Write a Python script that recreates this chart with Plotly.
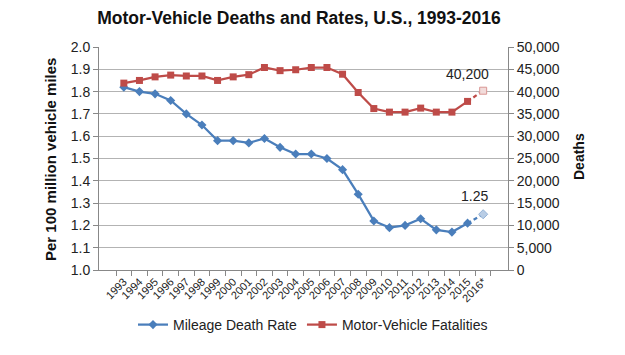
import plotly.graph_objects as go

years = ["1993", "1994", "1995", "1996", "1997", "1998", "1999", "2000", "2001", "2002",
         "2003", "2004", "2005", "2006", "2007", "2008", "2009", "2010", "2011", "2012",
         "2013", "2014", "2015", "2016*"]
death_rate = [1.82, 1.80, 1.79, 1.76, 1.70, 1.65, 1.58, 1.58, 1.57, 1.59,
              1.55, 1.52, 1.52, 1.50, 1.45, 1.34, 1.22, 1.19, 1.20, 1.23,
              1.18, 1.17, 1.21, 1.25]
fatalities = [41900, 42500, 43300, 43700, 43500, 43500, 42500, 43300, 43800, 45400,
              44700, 44900, 45400, 45400, 43900, 39800, 36200, 35400, 35400, 36300,
              35400, 35400, 37800, 40200]
left_ticks = [1.0, 1.1, 1.2, 1.3, 1.4, 1.5, 1.6, 1.7, 1.8, 1.9, 2.0]
right_ticks = [0, 5000, 10000, 15000, 20000, 25000, 30000, 35000, 40000, 45000, 50000]

BLUE = "#4a7ebb"
RED = "#be4b48"
FONT = "Liberation Sans, Arial, sans-serif"

OFF = 8  # page body margin offset
W, H = 625 - OFF, 355 - OFF
L, R, T, B = 99 - OFF, 117, 47 - OFF, 85
PW, PH = W - L - R, H - T - B


def px_x(x):
    return (x - OFF - L) / PW


def px_y(y):
    return (H - B - (y - OFF)) / PH


fig = go.Figure()

# solid lines (actual)
fig.add_trace(go.Scatter(
    x=years[:-1], y=death_rate[:-1], name="Mileage Death Rate", mode="lines+markers",
    line=dict(color=BLUE, width=2.25), marker=dict(symbol="diamond", size=7, color=BLUE),
    yaxis="y"))
fig.add_trace(go.Scatter(
    x=years[:-1], y=fatalities[:-1], name="Motor-Vehicle Fatalities", mode="lines+markers",
    line=dict(color=RED, width=2.25), marker=dict(symbol="square", size=7, color=RED),
    yaxis="y2"))

# dashed projection segments
fig.add_trace(go.Scatter(
    x=years[-2:], y=death_rate[-2:], mode="lines", showlegend=False,
    line=dict(color=BLUE, width=2.25, dash="4px,3px"), yaxis="y", hoverinfo="skip"))
fig.add_trace(go.Scatter(
    x=years[-1:], y=death_rate[-1:], mode="markers", showlegend=False,
    marker=dict(symbol="diamond", size=7, color="#b9cde5", line=dict(color="#95b3d7", width=1)),
    yaxis="y"))
fig.add_trace(go.Scatter(
    x=years[-2:], y=fatalities[-2:], mode="lines", showlegend=False,
    line=dict(color=RED, width=2.25, dash="4px,3px"), yaxis="y2", hoverinfo="skip"))
fig.add_trace(go.Scatter(
    x=years[-1:], y=fatalities[-1:], mode="markers", showlegend=False,
    marker=dict(symbol="square", size=7, color="#f2dcdb", line=dict(color="#d99694", width=1)),
    yaxis="y2"))

fig.add_annotation(x=years[-1], y=fatalities[-1], yref="y2", text=f"{fatalities[-1]:,}",
                   showarrow=False, xanchor="right", yanchor="bottom", xshift=8, yshift=7,
                   font=dict(size=14, color="#222", family=FONT))
fig.add_annotation(x=years[-1], y=death_rate[-1], yref="y", text=f"{death_rate[-1]:.2f}",
                   showarrow=False, xanchor="right", yanchor="bottom", xshift=7, yshift=8,
                   font=dict(size=14, color="#222", family=FONT))

# axis titles placed as annotations
fig.add_annotation(xref="paper", yref="paper", x=px_x(50), y=px_y(160),
                   text="<b>Per 100 million vehicle miles</b>", textangle=-90,
                   showarrow=False, xanchor="center", yanchor="middle",
                   font=dict(size=15, color="#111", family=FONT))
fig.add_annotation(xref="paper", yref="paper", x=px_x(579), y=px_y(157),
                   text="<b>Deaths</b>", textangle=-90,
                   showarrow=False, xanchor="center", yanchor="middle",
                   font=dict(size=14, color="#111", family=FONT))

fig.update_layout(
    width=W, height=H,
    margin=dict(l=L, r=R, t=T, b=B, autoexpand=False),
    paper_bgcolor="white", plot_bgcolor="white",
    font=dict(family=FONT, color="#222"),
    title=dict(text="<b>Motor-Vehicle Deaths and Rates, U.S., 1993-2016</b>",
               x=(299 - OFF) / W, xanchor="center", xref="container",
               y=1 - (18 - OFF) / H, yanchor="middle",
               font=dict(size=17.5, color="#111", family=FONT)),
    xaxis=dict(type="category", categoryorder="array", categoryarray=years,
               tickson="boundaries", ticks="outside", ticklen=5, tickcolor="#888",
               showline=True, linecolor="#888", linewidth=1, tickangle=-45,
               tickfont=dict(size=11, family=FONT, color="#222"), showgrid=False,
               automargin=False),
    yaxis=dict(range=[1.0, 2.0], tickvals=left_ticks, ticktext=[f"{v:.1f}" for v in left_ticks],
               showgrid=True, gridcolor="#b3b3b3", gridwidth=1,
               showline=True, linecolor="#888", linewidth=1, ticks="outside", ticklen=5,
               tickcolor="#888", tickfont=dict(size=14, family=FONT, color="#222"),
               zeroline=False, automargin=False),
    yaxis2=dict(range=[0, 50000], tickvals=right_ticks,
                ticktext=[f"{v:,}" for v in right_ticks],
                overlaying="y", side="right", showgrid=False,
                showline=True, linecolor="#888", linewidth=1, ticks="outside", ticklen=5,
                tickcolor="#888", tickfont=dict(size=14, family=FONT, color="#222"),
                zeroline=False, automargin=False),
    legend=dict(orientation="h", x=px_x(313), xanchor="center", y=px_y(325),
                yanchor="middle", font=dict(size=14, family=FONT, color="#222"),
                itemwidth=30, bgcolor="rgba(0,0,0,0)"),
    showlegend=True,
)

fig.write_html("out.html")
